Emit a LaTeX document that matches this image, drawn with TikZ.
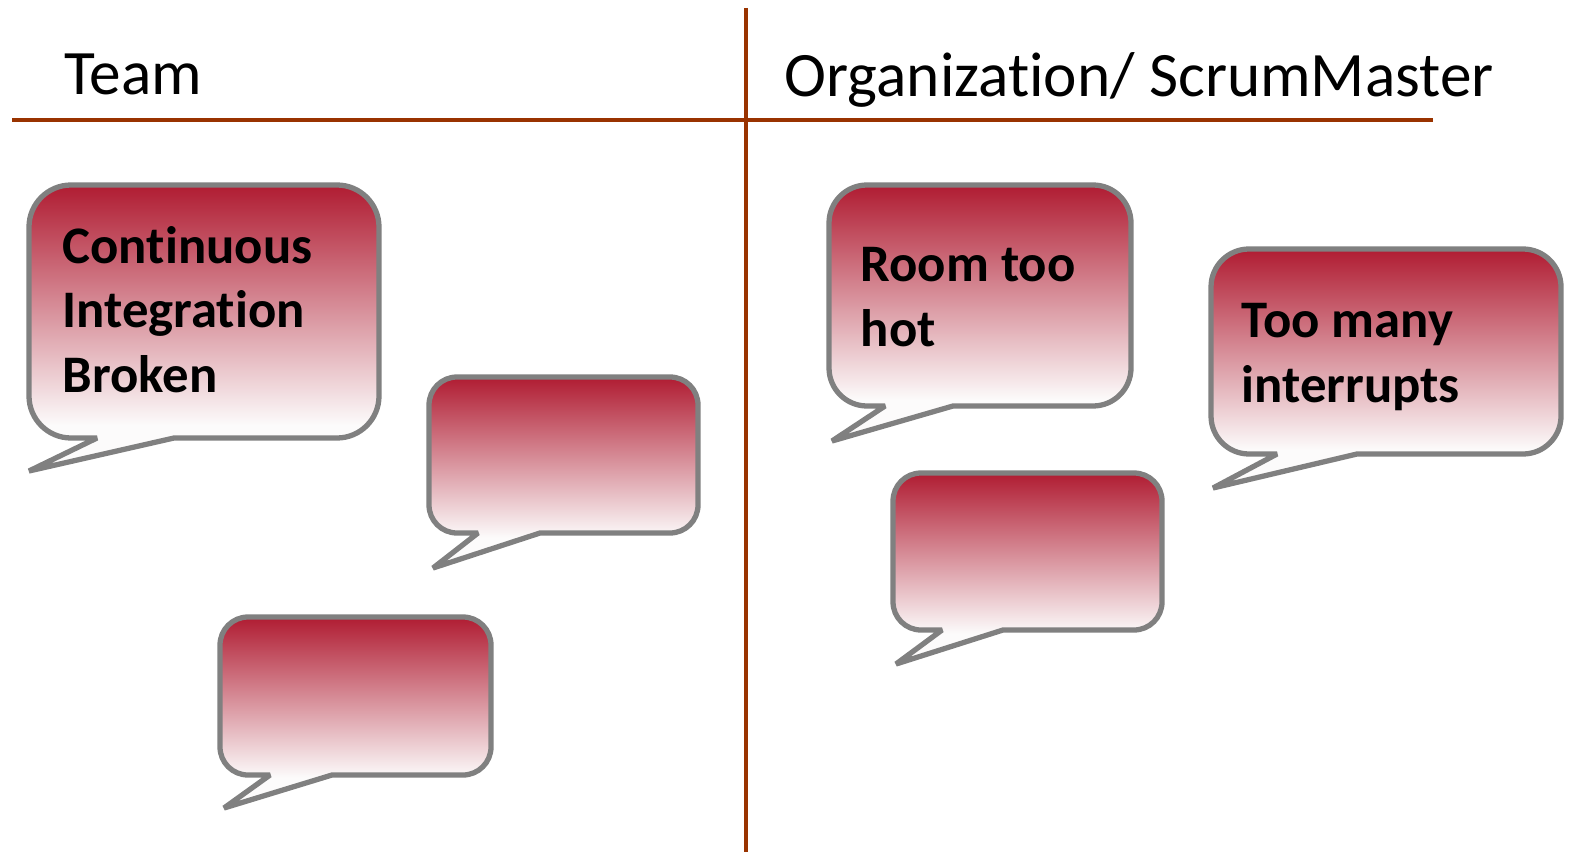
\documentclass[tikz,border=0pt]{standalone}
\usepackage{fontspec}
\setmainfont{Carlito}[Ligatures=NoCommon]
\definecolor{rule-brown}{RGB}{153,51,0}
\definecolor{edge-gray}{RGB}{128,128,128}
\definecolor{bubble-red}{RGB}{176,28,50}
\definecolor{bubble-white}{RGB}{252,251,251}
\pgfdeclareverticalshading{bubble-fade}{100bp}{color(0bp)=(bubble-white); color(33bp)=(bubble-white); color(75bp)=(bubble-red); color(100bp)=(bubble-red)}

\begin{document}
\begin{tikzpicture}
        [x=0.01cm,y=-0.01cm,
        heading/.style={anchor=base west,inner sep=0pt,font=\fontsize{18}{21}\selectfont},
        note/.style={anchor=base west,inner sep=0pt,align=left,font=\fontsize{15}{18.2}\selectfont\bfseries},
        bubble/.style={draw=edge-gray,line width=1.5pt,line join=miter,miter limit=2,shading=bubble-fade},
        divider/.style={draw=rule-brown,line width=1.4pt}
        ]
        \useasboundingbox (0,0) rectangle (1571,852);
        \draw[divider] (12,120) -- (1433,120);
        \draw[divider] (746,8) -- (746,852);
        \node[heading] (team) at (64,95) {Team};
        \node[heading] (org) at (784,97) {Organization/ ScrumMaster};
        % team side
        \path[bubble] (174,438) [rounded corners=0.42cm] -- (379,438) -- (379,185) -- (29,185) -- (29,438) [sharp corners] -- (97,438) -- (29,471) -- cycle;
        \path[bubble] (540,533) [rounded corners=0.28cm] -- (698,533) -- (698,377) -- (429,377) -- (429,533) [sharp corners] -- (478,533) -- (433,568) -- cycle;
        \path[bubble] (332,775) [rounded corners=0.28cm] -- (491,775) -- (491,617) -- (220,617) -- (220,775) [sharp corners] -- (270,775) -- (224,808) -- cycle;
        % organization side
        \path[bubble] (953,406) [rounded corners=0.38cm] -- (1131,406) -- (1131,185) -- (829,185) -- (829,406) [sharp corners] -- (885,406) -- (832,441) -- cycle;
        \path[bubble] (1003,630) [rounded corners=0.28cm] -- (1162,630) -- (1162,473) -- (893,473) -- (893,630) [sharp corners] -- (942,630) -- (896,664) -- cycle;
        \path[bubble] (1357,454) [rounded corners=0.38cm] -- (1561,454) -- (1561,249) -- (1211,249) -- (1211,454) [sharp corners] -- (1277,454) -- (1213,488) -- cycle;
        % base anchor sits on the last line
        \node[note] (ci-broken) at (62,392) {Continuous\\Integration\\Broken};
        \node[note] (room-hot) at (860,346) {Room too\\hot};
        \node[note] (interrupts) at (1241,402) {Too many\\interrupts};
    \end{tikzpicture}
\end{document}
